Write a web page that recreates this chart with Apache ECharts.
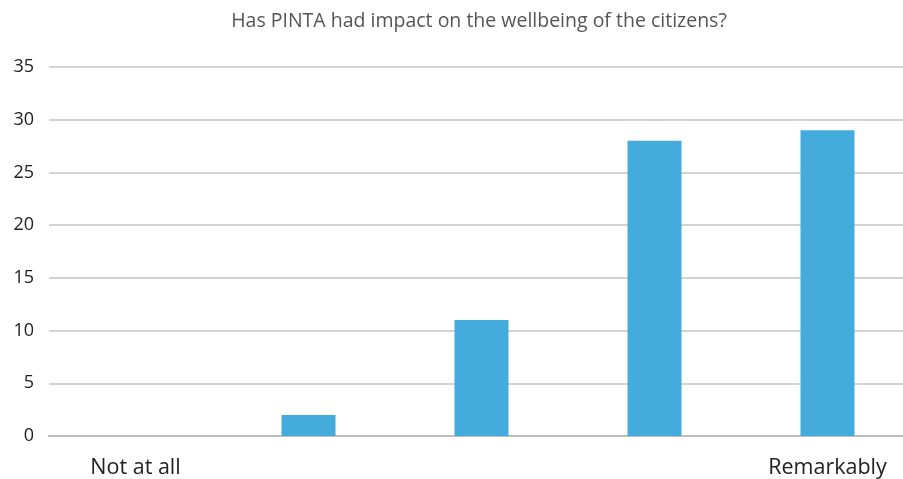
<!DOCTYPE html>
<html>
<head>
<meta charset="utf-8">
<script src="https://cdn.jsdelivr.net/npm/echarts@6/dist/echarts.min.js"></script>
<style>
  html, body { margin: 0; padding: 0; background: #fff; overflow: hidden; }
  /* the original plot runs past the right edge of the picture */
  #chart { width: 914px; height: 479px; }
</style>
</head>
<body>
<div id="chart"></div>
<script>
// data
const categories = ['Not at all', '', '', '', 'Remarkably']
const answers = [0, 2, 11, 28, 29]
const yTicks = { min: 0, max: 35, interval: 5 }

const chart = echarts.init(document.getElementById('chart'))
const font = '"Open Sans", "Noto Sans", sans-serif'

chart.setOption({
  animation: false,
  title: {
    text: 'Has PINTA had impact on the wellbeing of the citizens?',
    left: 474,
    textAlign: 'center',
    top: 6,
    textStyle: { fontFamily: font, fontSize: 19.5, fontWeight: 'normal', color: '#555' }
  },
  grid: {
    left: 49,
    top: 67,
    right: 0,
    height: 369
  },
  xAxis: {
    type: 'category',
    data: categories,
    axisTick: { show: false },
    axisLine: { lineStyle: { color: '#bdbdbd', width: 2 } },
    axisLabel: {
      interval: 0,
      margin: 21,
      fontFamily: font,
      fontSize: 21.5,
      color: '#222'
    }
  },
  yAxis: {
    type: 'value',
    min: yTicks.min,
    max: yTicks.max,
    interval: yTicks.interval,
    axisLine: { show: false },
    axisTick: { show: false },
    splitLine: { lineStyle: { color: '#c4c4c4', width: 1.5 } },
    axisLabel: {
      margin: 15,
      fontFamily: font,
      fontSize: 18,
      color: '#222'
    }
  },
  series: [{
    type: 'bar',
    data: answers,
    barWidth: 54,
    itemStyle: { color: '#44acdc' }
  }]
})
</script>
</body>
</html>
